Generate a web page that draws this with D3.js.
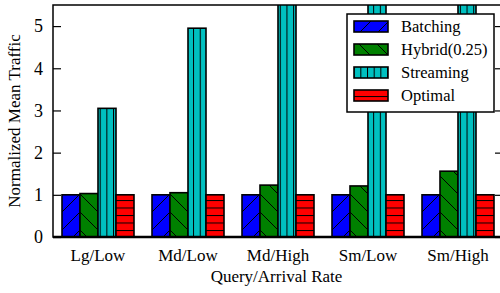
<!DOCTYPE html>
<html>
<head>
<meta charset="utf-8">
<script src="https://cdn.jsdelivr.net/npm/d3@7"></script>
<style>
  body { margin: 0; background: #fff; }
  svg text { font-family: "Liberation Serif", "Times New Roman", Times, serif; fill: #000; }
</style>
</head>
<body>
<svg id="chart" width="500" height="293"></svg>
<script>
// data
const categories = ["Lg/Low", "Md/Low", "Md/High", "Sm/Low", "Sm/High"];
const seriesNames = ["Batching", "Hybrid(0.25)", "Streaming", "Optimal"];
const batching = [1.0, 1.0, 1.0, 1.0, 1.0];
const hybrid = [1.03, 1.05, 1.23, 1.21, 1.56];
const streaming = [3.05, 4.95, 6.9, 6.1, 7.2];   // last three run off the top
const optimal = [1.0, 1.0, 1.0, 1.0, 1.0];
const yTicks = [0, 1, 2, 3, 4, 5];

const seriesValues = [batching, hybrid, streaming, optimal];
const fills = ["#0000ff", "#008000", "#00c0c0", "#ff0000"];
const patternIds = ["pat-batch", "pat-hybrid", "pat-stream", "pat-opt"];
const serif = "'Liberation Serif', 'Times New Roman', Times, serif";

const svg = d3.select("#chart");
const margin = { top: 5, right: -3, bottom: 56, left: 53 };
const width = +svg.attr("width") - margin.left - margin.right;
const height = +svg.attr("height") - margin.top - margin.bottom;

// patterns
const defs = svg.append("defs");
function makePattern(id, w, h, bg, lines) {
  const p = defs.append("pattern")
    .attr("id", id)
    .attr("patternUnits", "userSpaceOnUse")
    .attr("width", w).attr("height", h);
  p.append("rect").attr("width", w).attr("height", h).attr("fill", bg);
  lines.forEach(l => {
    p.append("line")
      .attr("x1", l[0]).attr("y1", l[1]).attr("x2", l[2]).attr("y2", l[3])
      .attr("stroke", "#000").attr("stroke-width", 1);
  });
}
makePattern("pat-batch", 18, 18, fills[0], [[0, 18, 18, 0], [-1, 1, 1, -1], [17, 19, 19, 17]]);
makePattern("pat-hybrid", 18, 18, fills[1], [[0, 0, 18, 18], [-1, 17, 1, 19], [17, -1, 19, 1]]);
makePattern("pat-stream", 6.67, 10, fills[2], [[0.5, 0, 0.5, 10]]);
makePattern("pat-opt", 10, 7.5, fills[3], [[0, 0.5, 10, 0.5]]);

defs.append("clipPath").attr("id", "plotclip")
  .append("rect").attr("x", 0).attr("y", 0).attr("width", width).attr("height", height);

const g = svg.append("g").attr("transform", `translate(${margin.left},${margin.top})`);

const x0 = d3.scaleBand().domain(categories).range([0, width]).paddingInner(0.2).paddingOuter(0.1);
const x1 = d3.scaleBand().domain(d3.range(seriesNames.length)).range([0, x0.bandwidth()]);
const y = d3.scaleLinear().domain([0, 5.5]).range([height, 0]);

// bars
const bars = g.append("g").attr("clip-path", "url(#plotclip)");
categories.forEach((c, i) => {
  seriesValues.forEach((vals, s) => {
    bars.append("rect")
      .attr("x", x0(c) + x1(s))
      .attr("y", y(vals[i]))
      .attr("width", x1.bandwidth())
      .attr("height", y(0) - y(vals[i]))
      .attr("fill", `url(#${patternIds[s]})`)
      .attr("stroke", "#000")
      .attr("stroke-width", 1.6);
  });
});

// y axis left and right, ticks pointing inward
g.append("g")
  .call(d3.axisLeft(y).tickValues(yTicks).tickSize(-8).tickPadding(10).tickFormat(d3.format("d")))
  .attr("font-family", serif).attr("font-size", 18)
  .call(a => a.select(".domain").remove())
  .call(a => a.selectAll("line").attr("stroke-width", 1.2));

g.append("g")
  .attr("transform", `translate(${width},0)`)
  .call(d3.axisRight(y).tickValues(yTicks).tickSize(-8).tickFormat(""))
  .call(a => a.select(".domain").remove())
  .call(a => a.selectAll("line").attr("stroke-width", 1.2));

// x labels
g.append("g")
  .attr("transform", `translate(0,${height})`)
  .call(d3.axisBottom(x0).tickSize(0).tickPadding(12))
  .attr("font-family", serif).attr("font-size", 17)
  .call(a => a.select(".domain").remove());

// frame
g.append("rect")
  .attr("width", width).attr("height", height)
  .attr("fill", "none").attr("stroke", "#000").attr("stroke-width", 1.5);
g.append("line")
  .attr("x1", 0).attr("x2", width).attr("y1", height).attr("y2", height)
  .attr("stroke", "#000").attr("stroke-width", 2.5);

// axis titles
svg.append("text")
  .attr("transform", `translate(20,${margin.top + height / 2}) rotate(-90)`)
  .attr("text-anchor", "middle")
  .attr("font-family", serif)
  .attr("font-size", 17)
  .text("Normalized Mean Traffic");

svg.append("text")
  .attr("x", margin.left + (500 - margin.left) / 2)
  .attr("y", 282)
  .attr("text-anchor", "middle")
  .attr("font-family", serif)
  .attr("font-size", 17)
  .text("Query/Arrival Rate");

// legend
const legend = svg.append("g").attr("transform", "translate(347,14)");
legend.append("rect")
  .attr("width", 147).attr("height", 98)
  .attr("fill", "#fff").attr("stroke", "#000").attr("stroke-width", 1.5);
seriesNames.forEach((name, s) => {
  const row = legend.append("g").attr("transform", `translate(0,${13 + s * 23})`);
  row.append("rect")
    .attr("x", 7).attr("y", -6)
    .attr("width", 34).attr("height", 11)
    .attr("fill", `url(#${patternIds[s]})`)
    .attr("stroke", "#000").attr("stroke-width", 1.6);
  row.append("text")
    .attr("x", 54).attr("y", 0)
    .attr("dy", "0.33em")
    .attr("font-family", serif)
    .attr("font-size", 16.5)
    .text(name);
});
</script>
</body>
</html>
